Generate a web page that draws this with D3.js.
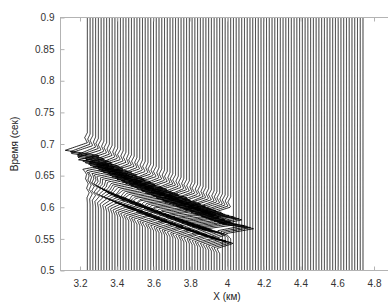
<!DOCTYPE html>
<html><head><meta charset="utf-8">
<script src="https://cdn.jsdelivr.net/npm/d3@7"></script>
<style>body{margin:0;background:#fff}svg{display:block}</style>
</head><body><svg id="c" width="388" height="307"></svg>
<script>
// trace positions (km)
const traceX=[3.24,3.255,3.27,3.285,3.3,3.315,3.33,3.345,3.36,3.375,3.39,3.405,3.42,3.435,3.45,3.465,3.48,3.495,3.51,3.525,
3.54,3.555,3.57,3.585,3.6,3.615,3.63,3.645,3.66,3.675,3.69,3.705,3.72,3.735,3.75,3.765,3.78,3.795,3.81,3.825,
3.84,3.855,3.87,3.885,3.9,3.915,3.93,3.945,3.96,3.975,3.99,4.005,4.02,4.035,4.05,4.065,4.08,4.095,4.11,4.125,
4.14,4.155,4.17,4.185,4.2,4.215,4.23,4.245,4.26,4.275,4.29,4.305,4.32,4.335,4.35,4.365,4.38,4.395,4.41,4.425,
4.44,4.455,4.47,4.485,4.5,4.515,4.53,4.545,4.56,4.575,4.59,4.605,4.62,4.635,4.65,4.665,4.68,4.695,4.71,4.725,4.74];
const xTicks=[3.2,3.4,3.6,3.8,4,4.2,4.4,4.6,4.8];
const yTicks=[0.5,0.55,0.6,0.65,0.7,0.75,0.8,0.85,0.9];
// main event: arrival time (s) and amplitude (km) for the first traces
const tau1=[0.678,0.6757,0.6734,0.6711,0.6689,0.6666,0.6644,0.6622,0.66,0.6578,0.6556,0.6534,0.6513,0.6492,0.647,0.6449,
0.6428,0.6407,0.6387,0.6366,0.6346,0.6325,0.6305,0.6285,0.6265,0.6245,0.6226,0.6206,0.6187,0.6168,0.6149,0.613,
0.6111,0.6092,0.6074,0.6055,0.6037,0.6019,0.6001,0.5983,0.5965,0.5947,0.593,0.5913,0.5895,0.5878,0.5861,0.5845,
0.5828,0.5811,0.5795,0.5779,0.5763];
const amp1=[0.12,0.11,0.125,0.1,0.115,0.13,0.105,0.12,0.11,0.125,0.1,0.12,0.13,0.11,0.115,0.1,0.125,0.12,0.105,0.13,
0.11,0.12,0.1,0.125,0.115,0.13,0.105,0.12,0.11,0.125,0.1,0.12,0.13,0.11,0.115,0.1,0.125,0.12,0.105,0.13,
0.11,0.12,0.1,0.125,0.115,0.13,0.11,0.12,0.125,0.12,0.13,0.125,0.13];
// second event
const tau2=[0.633,0.631,0.629,0.627,0.6252,0.6232,0.6213,0.6194,0.6175,0.6156,0.6137,0.6118,0.61,0.6083,0.6064,0.6046,
0.6028,0.601,0.5993,0.5975,0.5958,0.5941,0.5924,0.5907,0.589,0.5873,0.5857,0.584,0.5824,0.5809,0.5793,0.5777,
0.5761,0.5745,0.573,0.5714,0.5699,0.5685,0.567,0.5655,0.564,0.5625,0.5611,0.5597,0.5582,0.5569,0.5555,0.5542,0.5528];
const amp2=[0.01,0.012,0.015,0.02,0.025,0.03,0.035,0.04,0.045,0.05,0.055,0.06,0.065,0.07,0.065,0.08,0.07,0.075,0.085,0.065,
0.075,0.08,0.07,0.085,0.075,0.065,0.08,0.075,0.07,0.085,0.075,0.065,0.08,0.075,0.07,0.085,0.075,0.065,0.08,0.075,
0.07,0.085,0.075,0.08,0.075,0.08,0.075,0.08,0.075];
// wavelet shape: time offset from arrival (s) and normalised deflection
const waveletOffset=[0.04,0.032,0.024,0.012,0.004,-0.003,-0.01,-0.018,-0.026];
const waveletValue=[0,-0.12,0,-1,0.5,-0.4,1,-0.2,0];

const W=388,H=307;
const svg=d3.select("#c");
const x=d3.scaleLinear().domain([3.0912,4.9]).range([60,392.4]);
const y=d3.scaleLinear().domain([0.5,0.9]).range([270.5,17.5]);
const wav=d3.scaleLinear().domain(waveletOffset.slice().reverse()).range(waveletValue.slice().reverse()).clamp(true);
const times=d3.range(0.5,0.9005,0.001);

svg.append("defs").append("clipPath").attr("id","pc").append("rect")
  .attr("x",60).attr("y",17.5).attr("width",340).attr("height",253);

const line=d3.line().x(d=>x(d[0])).y(d=>y(d[1]));
const g=svg.append("g").attr("clip-path","url(#pc)");
traceX.forEach((x0,i)=>{
  const pts=times.map(t=>{
    let dx=0;
    if(i<tau1.length) dx+=amp1[i]*wav(t-tau1[i]);
    if(i<tau2.length) dx+=amp2[i]*wav(t-tau2[i]);
    return [x0+dx,t];
  });
  g.append("path").attr("d",line(pts)).attr("fill","none").attr("stroke","#000").attr("stroke-width",0.85);
});

// axes frame
const axCol="#b3b3b3";
svg.append("line").attr("x1",60).attr("x2",W).attr("y1",17.5).attr("y2",17.5).attr("stroke",axCol);
svg.append("line").attr("x1",60).attr("x2",W).attr("y1",270.5).attr("y2",270.5).attr("stroke",axCol);
svg.append("line").attr("x1",60.5).attr("x2",60.5).attr("y1",17.5).attr("y2",270.5).attr("stroke",axCol);

const fnt="'Liberation Sans', Arial, sans-serif";
const xa=svg.append("g").attr("transform","translate(0,270.5)")
  .call(d3.axisBottom(x).tickValues(xTicks).tickSize(-4).tickPadding(9).tickFormat(d3.format("")));
const xt=svg.append("g").attr("transform","translate(0,17.5)")
  .call(d3.axisTop(x).tickValues(xTicks).tickSize(-4).tickFormat(""));
const ya=svg.append("g").attr("transform","translate(60.5,0)")
  .call(d3.axisLeft(y).tickValues(yTicks).tickSize(-4).tickPadding(6).tickFormat(d3.format("")));
[xa,xt,ya].forEach(a=>{
  a.select(".domain").remove();
  a.selectAll(".tick line").attr("stroke",axCol);
  a.selectAll(".tick text").attr("fill","#333").style("font-family",fnt).style("font-size","10px");
});
svg.append("text").attr("x",227).attr("y",300).attr("text-anchor","middle")
  .style("font-family",fnt).style("font-size","10px").attr("fill","#222").text("X (км)");
svg.append("text").attr("transform","translate(18,144) rotate(-90)").attr("text-anchor","middle")
  .style("font-family",fnt).style("font-size","10px").attr("fill","#222").text("Время (сек)");
</script></body></html>
